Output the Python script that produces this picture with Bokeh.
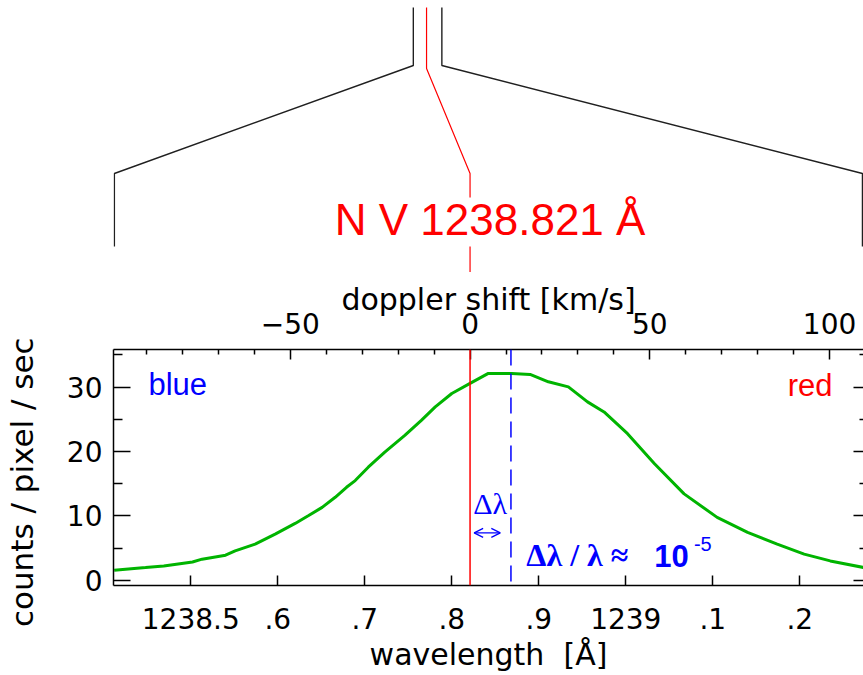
import numpy as np
from bokeh.plotting import figure
from bokeh.layouts import column
from bokeh.models import (Range1d, LinearAxis, FixedTicker, Span, Label,
                          Arrow, OpenHead, CustomJSTickFormatter)
from bokeh.embed import file_html
from bokeh.resources import INLINE

# ---------------- data ----------------
wavelength = [1238.412, 1238.448, 1238.469, 1238.502, 1238.513, 1238.540, 1238.551,
              1238.574, 1238.597, 1238.620, 1238.635, 1238.651, 1238.666, 1238.679,
              1238.689, 1238.704, 1238.723, 1238.746, 1238.765, 1238.781, 1238.800,
              1238.821, 1238.842, 1238.869, 1238.890, 1238.911, 1238.934, 1238.956,
              1238.975, 1239.002, 1239.033, 1239.067, 1239.105, 1239.140, 1239.174,
              1239.205, 1239.235, 1239.274]
counts = [1.56, 1.97, 2.23, 2.85, 3.28, 3.90, 4.57,
          5.62, 7.18, 8.83, 10.03, 11.33, 12.89, 14.45,
          15.49, 17.57, 19.91, 22.51, 24.85, 26.93, 29.02,
          30.58, 32.14, 32.14, 31.98, 30.83, 30.05, 27.71,
          26.15, 22.78, 18.10, 13.42, 9.77, 7.43, 5.62,
          4.06, 3.01, 1.97]

LINE_CENTER = 1238.821        # N V rest wavelength
SHIFTED_CENTER = 1238.868     # observed centroid
C_KMS = 299792.458

X_RANGE = (1238.4112, 1239.2732)
Y_RANGE = (-0.81, 35.85)

wl_ticks = [1238.5, 1238.6, 1238.7, 1238.8, 1238.9, 1239.0, 1239.1, 1239.2]
wl_tick_labels = ["1238.5", ".6", ".7", ".8", ".9", "1239", ".1", ".2"]
doppler_ticks = [-50, 0, 50, 100]
doppler_tick_labels = ["\u221250", "0", "50", "100"]
doppler_minor = [-90, -80, -70, -60, -40, -30, -20, -10, 10, 20, 30, 40,
                 60, 70, 80, 90, 110]
count_ticks = [0, 10, 20, 30]
count_tick_labels = ["0", "10", "20", "30"]
count_minor = [5, 15, 25, 35]

# zoom-window schematic (parent spectrum window -> this zoom)
ZOOM_BOX = (1238.4122, 1239.2720)
PARENT_WINDOW = (1238.7558, 1238.7886)
PARENT_LINE = 1238.7710
LABEL_X = 1238.844
LINE_LABEL = "N V 1238.821 \u00c5"

W = 863
TOP_H = 272
BOT_H = 675 - TOP_H
FRAME_LEFT = 111

def doppler(lam):
    return C_KMS * (lam - LINE_CENTER) / LINE_CENTER

# ---------------- top schematic ----------------
top = figure(width=W, height=TOP_H, x_range=Range1d(*X_RANGE),
             y_range=Range1d(TOP_H, 0), output_backend="svg",
             toolbar_location=None, title=None,
             min_border_left=0, min_border_right=0, min_border_top=0,
             min_border_bottom=0)
top.axis.visible = False
top.grid.visible = False
top.outline_line_color = None

top.line([ZOOM_BOX[0], ZOOM_BOX[0], PARENT_WINDOW[0], PARENT_WINDOW[0]],
         [246, 173, 65, 7], line_color="#202020", line_width=1.4)
top.line([ZOOM_BOX[1], ZOOM_BOX[1], PARENT_WINDOW[1], PARENT_WINDOW[1]],
         [246, 173, 65, 7], line_color="#202020", line_width=1.4)
top.line([PARENT_LINE, PARENT_LINE, LINE_CENTER, LINE_CENTER],
         [7, 68, 173, 197], line_color="#ff0000", line_width=1.2)
top.line([LINE_CENTER, LINE_CENTER], [246, TOP_H], line_color="#ff0000",
         line_width=1.2)
top.add_layout(Label(x=LABEL_X, y=219, text=LINE_LABEL, text_align="center",
                     text_baseline="alphabetic", text_color="#ff0000",
                     text_font="Liberation Sans", text_font_size="44px"))

# ---------------- main plot ----------------
p = figure(width=W, height=BOT_H, x_range=Range1d(*X_RANGE),
           y_range=Range1d(*Y_RANGE), output_backend="svg",
           toolbar_location=None, title=None,
           min_border_left=FRAME_LEFT, min_border_right=0,
           min_border_top=349 - TOP_H, min_border_bottom=90,
           x_axis_label="wavelength \u00a0[\u00c5]",
           y_axis_label="counts / pixel / sec\u00a0\u00a0\u00a0")
p.grid.visible = False
p.outline_line_color = None
p.background_fill_color = "white"
p.border_fill_color = "white"

p.extra_x_ranges = {"doppler": Range1d(doppler(X_RANGE[0]), doppler(X_RANGE[1]))}

def label_formatter(vals, labels):
    return CustomJSTickFormatter(args=dict(tv=vals, tl=labels), code="""
        for (let i = 0; i < tv.length; i++) {
            if (Math.abs(tick - tv[i]) < 1e-6) return tl[i];
        }
        return "";
    """)

def style_axis(ax):
    ax.axis_line_width = 1.5
    ax.axis_line_color = "black"
    ax.major_tick_line_width = 1.5
    ax.minor_tick_line_width = 1.5
    ax.major_tick_line_color = "black"
    ax.minor_tick_line_color = "black"
    ax.major_tick_out = 0
    ax.minor_tick_out = 0
    ax.major_label_text_font = "DejaVu Sans"
    ax.major_label_text_font_size = "28px"
    ax.major_label_text_color = "black"
    ax.axis_label_text_font = "DejaVu Sans"
    ax.axis_label_text_font_size = "30px"
    ax.axis_label_text_font_style = "normal"
    ax.axis_label_text_color = "black"

xb = p.xaxis[0]
style_axis(xb)
xb.ticker = FixedTicker(ticks=wl_ticks, minor_ticks=[])
xb.formatter = label_formatter(wl_ticks, wl_tick_labels)
xb.major_tick_in = 10
xb.major_label_standoff = 22
xb.axis_label_standoff = 5

yl = p.yaxis[0]
style_axis(yl)
yl.ticker = FixedTicker(ticks=count_ticks, minor_ticks=count_minor)
yl.formatter = label_formatter(count_ticks, count_tick_labels)
yl.major_tick_in = 17
yl.minor_tick_in = 9
yl.major_label_standoff = 11
yl.axis_label_text_font_size = "31px"
yl.axis_label_standoff = 24

xt = LinearAxis(x_range_name="doppler", axis_label="doppler shift [km/s]")
style_axis(xt)
xt.ticker = FixedTicker(ticks=doppler_ticks, minor_ticks=doppler_minor)
xt.formatter = label_formatter(doppler_ticks, doppler_tick_labels)
xt.major_tick_in = 10
xt.minor_tick_in = 5
xt.major_label_standoff = 16
xt.axis_label_standoff = -7
p.add_layout(xt, "above")

yr = LinearAxis()
style_axis(yr)
yr.ticker = FixedTicker(ticks=count_ticks, minor_ticks=count_minor)
yr.formatter = CustomJSTickFormatter(code="return '';")
yr.axis_line_color = None
yr.major_tick_in = 10
yr.minor_tick_in = 4
yr.major_label_standoff = 0
p.add_layout(yr, "right")

p.add_layout(Span(location=LINE_CENTER, dimension="height",
                  line_color="#ff0000", line_width=1.5))
p.add_layout(Span(location=SHIFTED_CENTER, dimension="height",
                  line_color="#0000ff", line_width=1.5, line_dash="16 8"))

p.line(wavelength, counts, line_color="#00b400", line_width=3)

p.add_layout(Label(x=1238.4513, y=30.35, text="blue", text_color="#0000ff",
                   text_font="Liberation Sans", text_font_size="31px",
                   text_baseline="alphabetic", text_align="left"))
p.add_layout(Label(x=1239.2376, y=30.25, text="red", text_color="#ff0000",
                   text_font="Liberation Sans", text_font_size="31px",
                   text_baseline="alphabetic", text_align="right"))
p.add_layout(Label(x=1238.8246, y=11.86, text="\u0394\u03bb", text_color="#0000ff",
                   text_font="Liberation Serif", text_font_size="30px",
                   text_baseline="alphabetic", text_align="left"))

# double-headed arrow spanning the shift between the two centres
inset = 0.2 * (SHIFTED_CENTER - LINE_CENTER)
p.add_layout(Arrow(x_start=LINE_CENTER + inset * 0.5, x_end=SHIFTED_CENTER - inset * 1.3,
                   y_start=7.36, y_end=7.36,
                   start=OpenHead(size=9, line_color="#0000ff", line_width=1.3),
                   end=OpenHead(size=9, line_color="#0000ff", line_width=1.3),
                   line_color="#0000ff", line_width=1.3))

p.add_layout(Label(x=1238.8857, y=3.88, text="\u0394\u03bb / \u03bb \u2248",
                   text_color="#0000ff", text_font="Liberation Serif",
                   text_font_size="32px", text_font_style="bold",
                   text_baseline="alphabetic", text_align="left"))
p.add_layout(Label(x=1239.0328, y=3.82, text="10", text_color="#0000ff",
                   text_font="Liberation Sans", text_font_size="31px",
                   text_font_style="bold",
                   text_baseline="alphabetic", text_align="left"))
p.add_layout(Label(x=1239.0783, y=5.6, text="-5", text_color="#0000ff",
                   text_font="Liberation Sans", text_font_size="20px",
                   text_baseline="alphabetic", text_align="left"))

layout = column(top, p, spacing=0)
open("out.html", "w").write(file_html(layout, INLINE))
